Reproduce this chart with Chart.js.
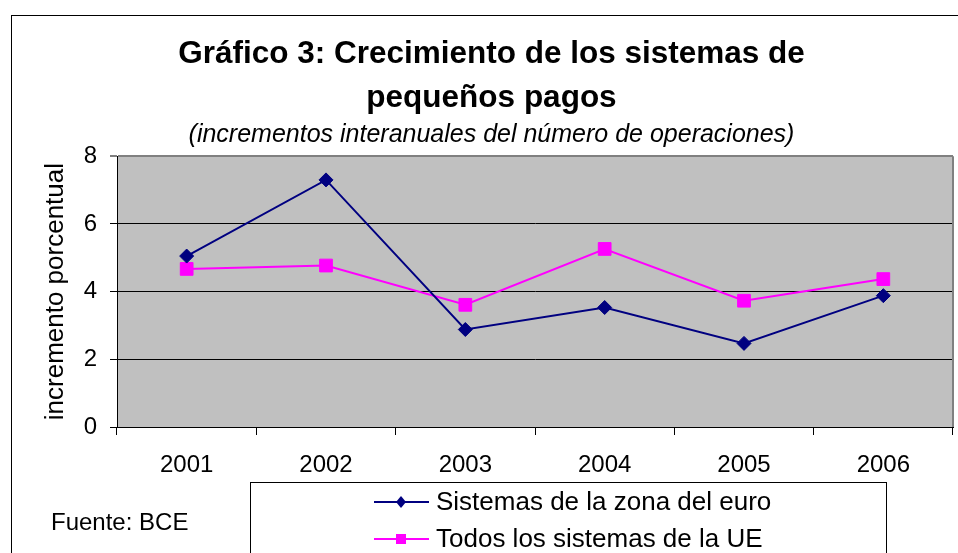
<!DOCTYPE html>
<html>
<head>
<meta charset="utf-8">
<script src="https://cdn.jsdelivr.net/npm/chart.js"></script>
<style>
  body { margin: 0; background: #fff; }
  canvas { display: block; }
</style>
</head>
<body>
<canvas id="myChart" width="958" height="553"></canvas>
<script>
// data
const years = ['2001', '2002', '2003', '2004', '2005', '2006'];
const euroArea = [5.05, 7.3, 2.88, 3.53, 2.47, 3.88];
const allEU = [4.67, 4.77, 3.61, 5.26, 3.73, 4.37];
const seriesNames = ['Sistemas de la zona del euro', 'Todos los sistemas de la UE'];
const titleLines = ['Gráfico 3: Crecimiento de los sistemas de', 'pequeños pagos'];
const subtitleText = '(incrementos interanuales del número de operaciones)';
const sourceText = 'Fuente: BCE';

const FONT = "'Liberation Sans', Arial, sans-serif";

// gray plot area, border round the whole figure, legend box and source note
const decorations = {
    id: 'decorations',
    beforeDraw(chart) {
        const { ctx, chartArea: a } = chart;
        ctx.save();
        ctx.fillStyle = '#fff';
        ctx.fillRect(0, 0, chart.width, chart.height);
        ctx.strokeStyle = '#000';
        ctx.lineWidth = 1;
        ctx.strokeRect(11.5, 15.5, 1000, 600);
        ctx.fillStyle = '#c0c0c0';
        ctx.fillRect(a.left, a.top, a.right - a.left, a.bottom - a.top);
        ctx.restore();
    },
    beforeDatasetsDraw(chart) {
        const { ctx, chartArea: a } = chart;
        ctx.save();
        ctx.strokeStyle = '#808080';
        ctx.lineWidth = 2;
        ctx.beginPath();
        ctx.moveTo(a.right, a.top);
        ctx.lineTo(a.right, a.bottom);
        ctx.stroke();
        ctx.restore();
    },
    afterDraw(chart) {
        const { ctx } = chart;
        ctx.save();
        // legend box
        ctx.strokeStyle = '#000';
        ctx.lineWidth = 1;
        ctx.strokeRect(250.5, 482.5, 636, 100);
        ctx.font = '26px ' + FONT;
        ctx.textBaseline = 'middle';
        ctx.textAlign = 'left';
        const rows = [502, 539];
        chart.data.datasets.forEach((ds, i) => {
            const y = rows[i];
            ctx.strokeStyle = ds.borderColor;
            ctx.fillStyle = ds.backgroundColor;
            ctx.lineWidth = 2;
            ctx.beginPath();
            ctx.moveTo(374, y);
            ctx.lineTo(429, y);
            ctx.stroke();
            ctx.beginPath();
            if (ds.pointStyle === 'rectRot') {
                ctx.moveTo(401, y - 6);
                ctx.lineTo(406, y);
                ctx.lineTo(401, y + 6);
                ctx.lineTo(396, y);
                ctx.closePath();
            } else {
                ctx.rect(396, y - 5, 10, 10);
            }
            ctx.fill();
            ctx.fillStyle = '#000';
            ctx.fillText(ds.label, 436, y + 1);
        });
        // source
        ctx.font = '24px ' + FONT;
        ctx.fillStyle = '#000';
        ctx.fillText(sourceText, 51, 523);
        ctx.restore();
    }
};

const data = {
    labels: years,
    datasets: [{
        label: seriesNames[0],
        data: euroArea,
        borderColor: '#000080',
        backgroundColor: '#000080',
        borderWidth: 2,
        pointStyle: 'rectRot',
        pointRadius: 7,
        pointBorderWidth: 1,
        tension: 0
    }, {
        label: seriesNames[1],
        data: allEU,
        borderColor: '#ff00ff',
        backgroundColor: '#ff00ff',
        borderWidth: 2,
        pointStyle: 'rect',
        pointRadius: 9,
        pointBorderWidth: 1,
        tension: 0
    }]
};

const config = {
    type: 'line',
    data,
    options: {
        responsive: false,
        animation: false,
        layout: {
            autoPadding: false,
            padding: { left: 30, right: 5, top: 16, bottom: 0 }
        },
        plugins: {
            legend: { display: false },
            tooltip: { enabled: false },
            title: {
                display: true,
                text: titleLines,
                color: '#000',
                font: { family: FONT, size: 31.5, weight: 'bold', lineHeight: 1.4 },
                padding: { top: 16, bottom: 0 }
            },
            subtitle: {
                display: true,
                text: subtitleText,
                color: '#000',
                font: { family: FONT, size: 25, style: 'italic', lineHeight: 1.2 },
                padding: { top: 0, bottom: 6 }
            }
        },
        scales: {
            x: {
                offset: true,
                afterFit: scale => {
                    scale.height = 126;
                    scale.paddingLeft = 0;
                    scale.paddingRight = 0;
                },
                border: { color: '#000', width: 1 },
                grid: {
                    offset: true,
                    drawOnChartArea: false,
                    drawTicks: true,
                    tickLength: 8,
                    color: '#000'
                },
                ticks: {
                    color: '#000',
                    padding: 16,
                    maxRotation: 0,
                    font: { family: FONT, size: 24 }
                }
            },
            y: {
                min: 0,
                max: 8,
                afterFit: scale => { scale.width = 87; },
                border: { color: '#000', width: 1 },
                grid: {
                    color: c => (c.tick && c.tick.value === 8 ? '#808080' : '#000'),
                    lineWidth: c => (c.tick && c.tick.value === 8 ? 2 : 1),
                    tickLength: 7
                },
                ticks: {
                    stepSize: 2,
                    color: '#000',
                    padding: 13,
                    font: { family: FONT, size: 24 }
                },
                title: {
                    display: true,
                    text: 'incremento porcentual',
                    color: '#000',
                    padding: { top: 10, bottom: 0 },
                    font: { family: FONT, size: 26, lineHeight: 1.2 }
                }
            }
        }
    },
    plugins: [decorations]
};

// render init block
const myChart = new Chart(
    document.getElementById('myChart'),
    config
);
</script>
</body>
</html>
